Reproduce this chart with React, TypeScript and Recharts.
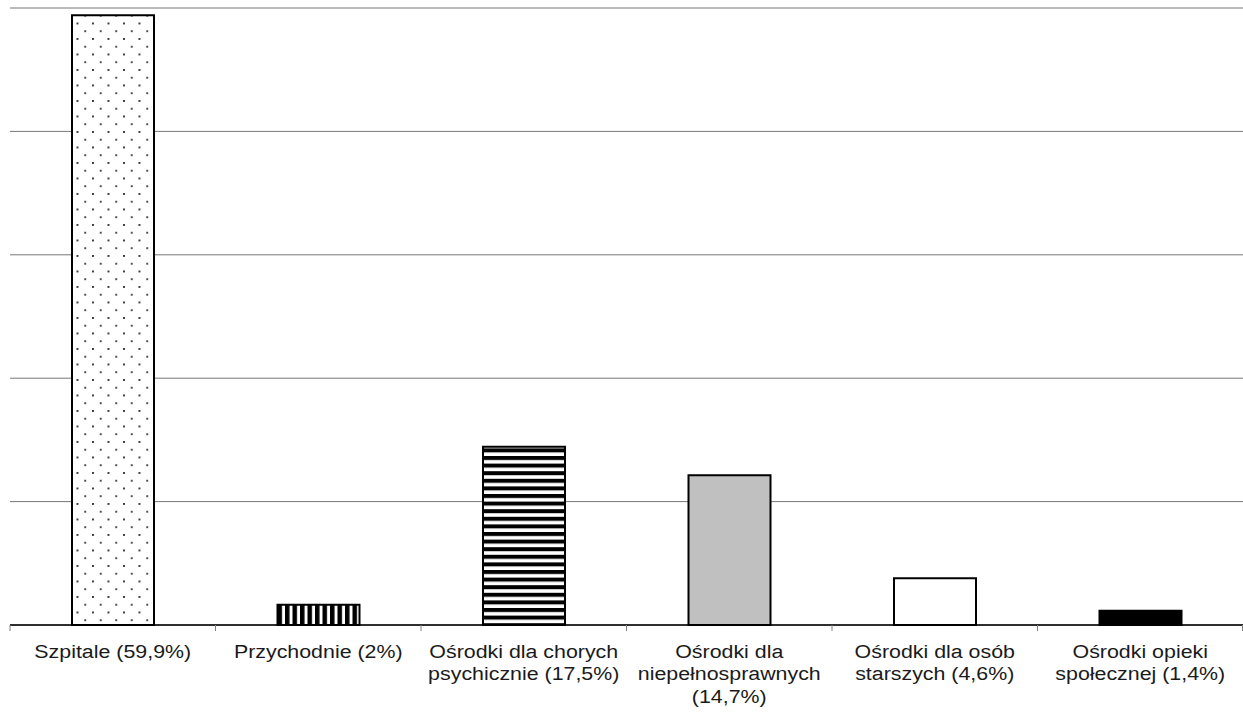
import React from "react";
import { BarChart, Bar, XAxis, YAxis, CartesianGrid, Cell } from "recharts";

const categories: string[] = [
  "Szpitale (59,9%)",
  "Przychodnie (2%)",
  "Ośrodki dla chorych\npsychicznie (17,5%)",
  "Ośrodki dla\nniepełnosprawnych\n(14,7%)",
  "Ośrodki dla osób\nstarszych (4,6%)",
  "Ośrodki opieki\nspołecznej (1,4%)",
];
const values: number[] = [59.9, 2, 17.5, 14.7, 4.6, 1.4];
const yTicks: number[] = [0, 12.12, 24.24, 36.36, 48.48, 60.6];
const fills: string[] = [
  "url(#dots)",
  "url(#vstripes)",
  "url(#hstripes)",
  "#c0c0c0",
  "#ffffff",
  "#000000",
];

const data = categories.map((c, i) => ({ name: c, value: values[i] }));

const W = 1243;
const H = 712;
const M = { top: 8, right: 0, left: 10, bottom: 0 };
const AXIS_H = 87;
const PLOT_BOTTOM = H - AXIS_H;
const PLOT_W = W - M.left - M.right;
const BAND = PLOT_W / categories.length;
const FONT = 19;
const SX = 1.125;
const LINE_H = 22.5;

const Tick = (props: any) => {
  const { x, payload, index } = props;
  const lines: string[] = String(payload.value).split("\n");
  const left = x - BAND / 2;
  const right = x + BAND / 2;
  return (
    <g>
      <line x1={left} x2={left} y1={PLOT_BOTTOM} y2={PLOT_BOTTOM + 6} stroke="#808080" strokeWidth={1} />
      {index === categories.length - 1 && (
        <line x1={right - 0.5} x2={right - 0.5} y1={PLOT_BOTTOM} y2={PLOT_BOTTOM + 6} stroke="#808080" strokeWidth={1} />
      )}
      <text
        transform={`translate(${x},0) scale(${SX},1)`}
        textAnchor="middle"
        fontFamily="'Liberation Sans', Arial, sans-serif"
        fontSize={FONT}
        fill="#1a1a1a"
      >
        {lines.map((l, i) => (
          <tspan key={i} x={0} y={PLOT_BOTTOM + 33 + i * LINE_H}>
            {l}
          </tspan>
        ))}
      </text>
    </g>
  );
};

export default function App() {
  return (
    <div style={{ position: "absolute", left: 0, top: 0, width: W, height: H, background: "#fff" }}>
      <BarChart width={W} height={H} data={data} margin={M} barSize={82}>
        <defs>
          <pattern id="dots" patternUnits="userSpaceOnUse" x={76.5} y={22.5} width={15.5} height={15.5}>
            <rect x={0} y={0} width={15.5} height={15.5} fill="#fff" />
            <circle cx={1} cy={1} r={1.05} fill="#222" />
            <circle cx={8.75} cy={8.75} r={1.05} fill="#222" />
          </pattern>
          <pattern id="vstripes" patternUnits="userSpaceOnUse" x={0} y={0} width={7.5} height={7.5}>
            <rect x={0} y={0} width={7.5} height={7.5} fill="#fff" />
            <rect x={0} y={0} width={4.5} height={7.5} fill="#000" />
          </pattern>
          <pattern id="hstripes" patternUnits="userSpaceOnUse" x={0} y={0} width={7.6} height={7.6}>
            <rect x={0} y={0} width={7.6} height={7.6} fill="#fff" />
            <rect x={0} y={0} width={7.6} height={4} fill="#000" />
          </pattern>
        </defs>
        <CartesianGrid vertical={false} stroke="#777" strokeWidth={1} />
        <YAxis hide domain={[0, 60.6]} ticks={yTicks} />
        <XAxis
          dataKey="name"
          height={AXIS_H}
          axisLine={{ stroke: "#000", strokeWidth: 1.5 }}
          tickLine={false}
          tick={<Tick />}
          interval={0}
        />
        <Bar dataKey="value" isAnimationActive={false} stroke="#000" strokeWidth={2}>
          {data.map((d, i) => (
            <Cell key={d.name} fill={fills[i]} />
          ))}
        </Bar>
      </BarChart>
    </div>
  );
}
